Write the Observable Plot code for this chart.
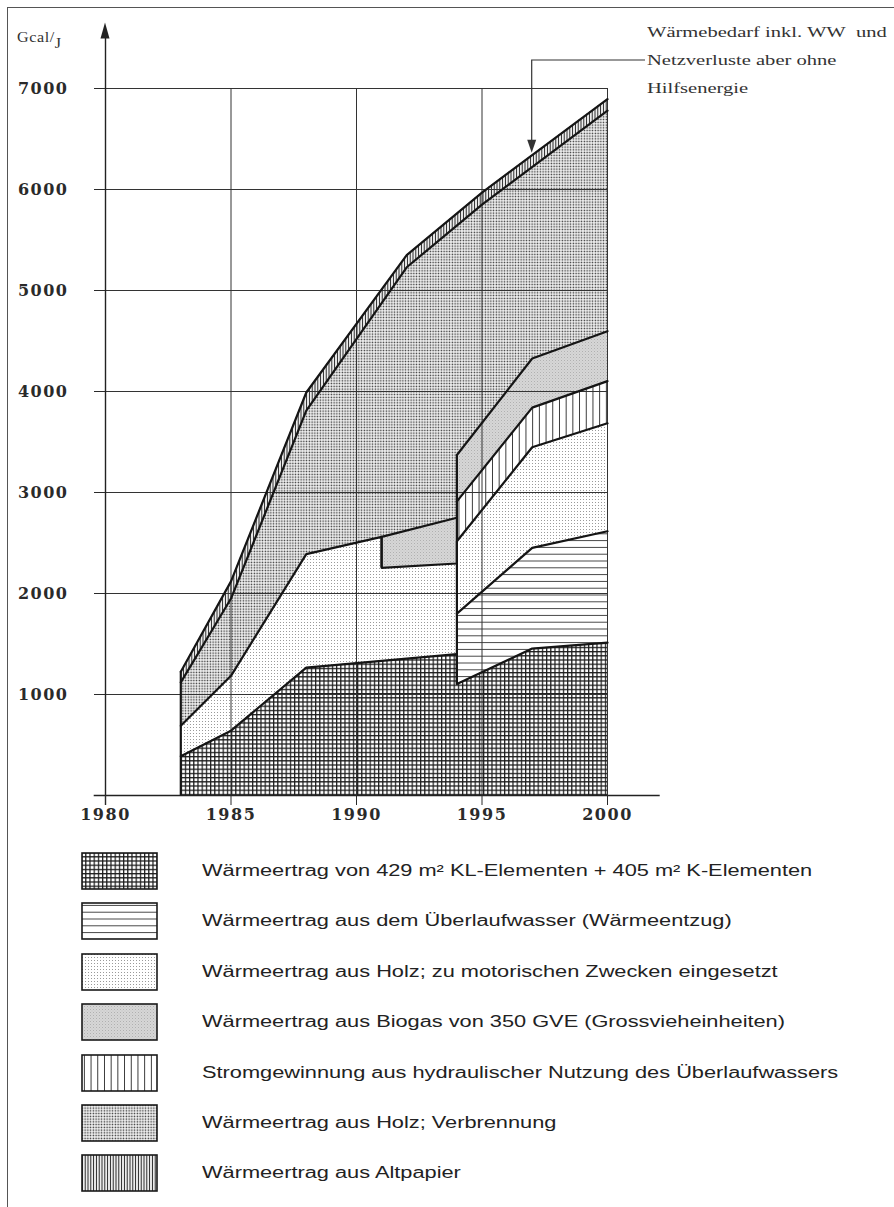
<!DOCTYPE html>
<html><head><meta charset="utf-8">
<script src="https://cdn.jsdelivr.net/npm/d3@7"></script>
<script src="https://cdn.jsdelivr.net/npm/@observablehq/plot@0.6"></script>
<style>
body{margin:0;background:#fff;}
#page{position:relative;width:894px;height:1207px;overflow:hidden;background:#fff;}
#frame{position:absolute;left:7px;top:7px;width:950px;height:1250px;border-left:1.3px solid #555;border-top:1.3px solid #555;}
#chart{position:absolute;left:0;top:0;}
#unit{position:absolute;left:17px;top:30px;font-family:"Liberation Serif",serif;font-size:14px;color:#333;letter-spacing:0.5px;transform:scaleX(1.15);transform-origin:0 0;}
#unit span{position:relative;top:6px;}
#note{position:absolute;left:647px;top:18px;font-family:"Liberation Serif",serif;font-size:15px;line-height:28px;color:#333;transform:scaleX(1.37);transform-origin:0 0;white-space:nowrap;}
.lg{position:absolute;left:81px;height:36px;}
.lg svg{position:absolute;left:0;top:0;}
.lg .t{position:absolute;left:121px;top:0;line-height:38px;font-family:"Liberation Sans",Arial,sans-serif;font-size:16px;color:#222;white-space:nowrap;transform:scaleX(1.36);transform-origin:0 50%;}
</style>
</head><body>
<svg width="0" height="0" style="position:absolute">
<defs>
<pattern id="p-kl" width="4.2" height="4.2" patternUnits="userSpaceOnUse">
<rect width="4.2" height="4.2" fill="#fff"/>
<path d="M0 0.6H4.2M0.6 0V4.2" stroke="#1a1a1a" stroke-width="1.25"/>
</pattern>
<pattern id="p-ueber" width="10" height="6.8" patternUnits="userSpaceOnUse">
<rect width="10" height="6.8" fill="#fff"/>
<path d="M0 3.4H10" stroke="#444" stroke-width="1"/>
</pattern>
<pattern id="p-holzmot" width="3" height="3" patternUnits="userSpaceOnUse">
<rect width="3" height="3" fill="#fff"/>
<rect x="1" y="1" width="1" height="1" fill="#9a9a9a"/>
</pattern>
<pattern id="p-biogas" width="3" height="3" patternUnits="userSpaceOnUse">
<rect width="3" height="3" fill="#d6d6d6"/>
<rect x="0" y="0" width="1" height="1" fill="#b0b0b0"/>
<rect x="1.5" y="1.5" width="1" height="1" fill="#c2c2c2"/>
</pattern>
<pattern id="p-strom" width="6.7" height="10" patternUnits="userSpaceOnUse">
<rect width="6.7" height="10" fill="#fff"/>
<path d="M3.35 0V10" stroke="#333" stroke-width="1"/>
</pattern>
<pattern id="p-verb" width="2.75" height="2.75" patternUnits="userSpaceOnUse">
<rect width="2.75" height="2.75" fill="#fff"/>
<rect x="0.6" y="0.6" width="1.5" height="1.5" fill="#2a2a2a"/>
</pattern>
<pattern id="p-alt" width="2.8" height="10" patternUnits="userSpaceOnUse">
<rect width="2.8" height="10" fill="#fff"/>
<path d="M1.4 0V10" stroke="#222" stroke-width="1.1"/>
</pattern>
</defs>
</svg>
<div id="page">
<div id="frame"></div>
<div id="chart"></div>
<div id="unit">Gcal/<span>J</span></div>
<div id="note">Wärmebedarf inkl. WW&nbsp; und<br>Netzverluste aber ohne<br>Hilfsenergie</div>
<div id="legend"></div>
</div>
<script>
// ---- axis ticks ----
const xTicks = [1980, 1985, 1990, 1995, 2000];
const yTicks = [1000, 2000, 3000, 4000, 5000, 6000, 7000];

// ---- layers (Gcal/J) ----
const klYears = [1983, 1985, 1988, 1991, 1994, 1994, 1997, 2000];
const klTop   = [388, 642, 1267, 1333, 1399, 1103, 1455, 1514];

const ueberYears  = [1994, 1997, 2000];
const ueberBottom = [1103, 1455, 1514];
const ueberTop    = [1800, 2451, 2616];

const holzMotYears  = [1983, 1985, 1988, 1991, 1991, 1994, 1994, 1997, 2000];
const holzMotBottom = [388, 642, 1267, 1333, 1333, 1399, 1800, 2451, 2616];
const holzMotTop    = [691, 1185, 2390, 2560, 2254, 2297, 2517, 3448, 3685];

const biogasYears  = [1991, 1994, 1994, 1997, 2000];
const biogasPart   = ["A", "A", "B", "B", "B"];
const biogasBottom = [2254, 2297, 2912, 3840, 4103];
const biogasTop    = [2560, 2750, 3371, 4327, 4597];

const stromYears  = [1994, 1997, 2000];
const stromBottom = [2517, 3448, 3685];
const stromTop    = [2912, 3840, 4103];

// wood burning (top edge) and waste paper (demand line on top)
const verbYears = [1983, 1985, 1988, 1992, 1995, 2000];
const verbTop   = [1120, 1950, 3810, 5230, 5850, 6780];
const altYears  = [1983, 1985, 1988, 1992, 1995, 2000];
const altTop    = [1225, 2120, 3990, 5350, 5970, 6895];

// annotation: arrow points at the demand line in 1997
const noteYear = 1997;
const noteValue = 6360;

// legend
const legendLabels = [
  "Wärmeertrag von 429 m² KL-Elementen + 405 m² K-Elementen",
  "Wärmeertrag aus dem Überlaufwasser (Wärmeentzug)",
  "Wärmeertrag aus Holz; zu motorischen Zwecken eingesetzt",
  "Wärmeertrag aus Biogas von 350 GVE (Grossvieheinheiten)",
  "Stromgewinnung aus hydraulischer Nutzung des Überlaufwassers",
  "Wärmeertrag aus Holz; Verbrennung",
  "Wärmeertrag aus Altpapier"
];
const legendPatterns = ["p-kl", "p-ueber", "p-holzmot", "p-biogas", "p-strom", "p-verb", "p-alt"];

// ---- build rows ----
const rows = (xs, lo, hi, part) => xs.map((x, i) => ({x, y1: lo[i], y2: hi[i], part: part ? part[i] : "A"}));
const zeros = n => Array.from({length: n}, () => 0);

const klRows = rows(klYears, zeros(klYears.length), klTop);
const ueberRows = rows(ueberYears, ueberBottom, ueberTop);
const holzMotRows = rows(holzMotYears, holzMotBottom, holzMotTop);
const biogasRows = rows(biogasYears, biogasBottom, biogasTop, biogasPart);
const stromRows = rows(stromYears, stromBottom, stromTop);
const verbRows = rows(verbYears, zeros(verbYears.length), verbTop);
const altRows = rows(altYears, zeros(altYears.length), altTop);

const edges = [
  {x: klYears[0], y1: 0, y2: altTop[0]},
  {x: biogasYears[0], y1: biogasBottom[0], y2: biogasTop[0]},
  {x: ueberYears[0], y1: ueberBottom[0], y2: biogasTop[2]}
];

const area = (data, fill) => Plot.areaY(data, {x: "x", y1: "y1", y2: "y2", z: "part", fill, curve: "linear"});
const edge = (data, key) => Plot.line(data, {x: "x", y: key, z: "part", stroke: "#151515", strokeWidth: 2.2, strokeLinejoin: "round"});

const plot = Plot.plot({
  width: 894, height: 840,
  marginLeft: 105, marginRight: 287, marginTop: 88, marginBottom: 45,
  x: {domain: [1980, 2000]},
  y: {domain: [0, 7000]},
  style: {background: "transparent", overflow: "visible", fontFamily: "DejaVu Serif", fontSize: "16px", fontWeight: "bold", color: "#2a2a2a"},
  marks: [
    area(altRows, "url(#p-alt)"),
    area(verbRows, "url(#p-verb)"),
    area(klRows, "url(#p-kl)"),
    area(ueberRows, "url(#p-ueber)"),
    area(holzMotRows, "url(#p-holzmot)"),
    area(biogasRows, "url(#p-biogas)"),
    area(stromRows, "url(#p-strom)"),
    Plot.gridY(yTicks, {stroke: "#333", strokeOpacity: 1, strokeWidth: 1}),
    Plot.gridX(xTicks, {stroke: "#333", strokeOpacity: 1, strokeWidth: 1}),
    edge(altRows, "y2"),
    edge(verbRows, "y2"),
    edge(holzMotRows, "y2"),
    edge(biogasRows, "y2"),
    edge(stromRows, "y2"),
    edge(ueberRows, "y2"),
    edge(klRows, "y2"),
    Plot.ruleX(edges, {x: "x", y1: "y1", y2: "y2", stroke: "#151515", strokeWidth: 2.2}),
    Plot.ruleY([0], {x1: 1979.55, x2: 2002.1, stroke: "#222", strokeWidth: 1.3}),
    Plot.ruleX([1980], {y1: -100, y2: 7500, stroke: "#222", strokeWidth: 1.4}),
    Plot.axisY(yTicks, {tickSize: 11, tickPadding: 26, tickFormat: "d", label: null}),
    Plot.axisX(xTicks, {tickSize: 10, tickPadding: 3, tickFormat: "d", label: null})
  ]
});
document.getElementById("chart").appendChild(plot);

// letter spacing of the tick labels
d3.select(plot).selectAll('g[aria-label$="tick label"] text').style("letter-spacing", "1.5px");

// arrowheads and leader line
const sx = plot.scale("x"), sy = plot.scale("y");
const svg = d3.select(plot);
const ax = sx.apply(1980), ayTop = sy.apply(7500);
svg.append("path").attr("d", `M${ax},${ayTop - 15}L${ax - 4.5},${ayTop + 1}L${ax + 4.5},${ayTop + 1}Z`).attr("fill", "#222");
const nx = sx.apply(noteYear), ny = sy.apply(noteValue);
const leaderY = 60, leaderX2 = 645;
svg.append("path").attr("d", `M${leaderX2},${leaderY}H${nx}V${ny - 12}`).attr("fill", "none").attr("stroke", "#333").attr("stroke-width", 1.2);
svg.append("path").attr("d", `M${nx},${ny}L${nx - 4.5},${ny - 13}L${nx + 4.5},${ny - 13}Z`).attr("fill", "#333");

// legend
const legend = document.getElementById("legend");
legendLabels.forEach((label, i) => {
  const row = document.createElement("div");
  row.className = "lg";
  row.style.top = (852 + i * 50.4) + "px";
  row.innerHTML = `<svg width="77" height="38"><rect x="1" y="1" width="75" height="36" fill="url(#${legendPatterns[i]})" stroke="#1a1a1a" stroke-width="1.6"/></svg><div class="t"></div>`;
  row.querySelector(".t").textContent = label;
  legend.appendChild(row);
});
</script>
</body></html>
